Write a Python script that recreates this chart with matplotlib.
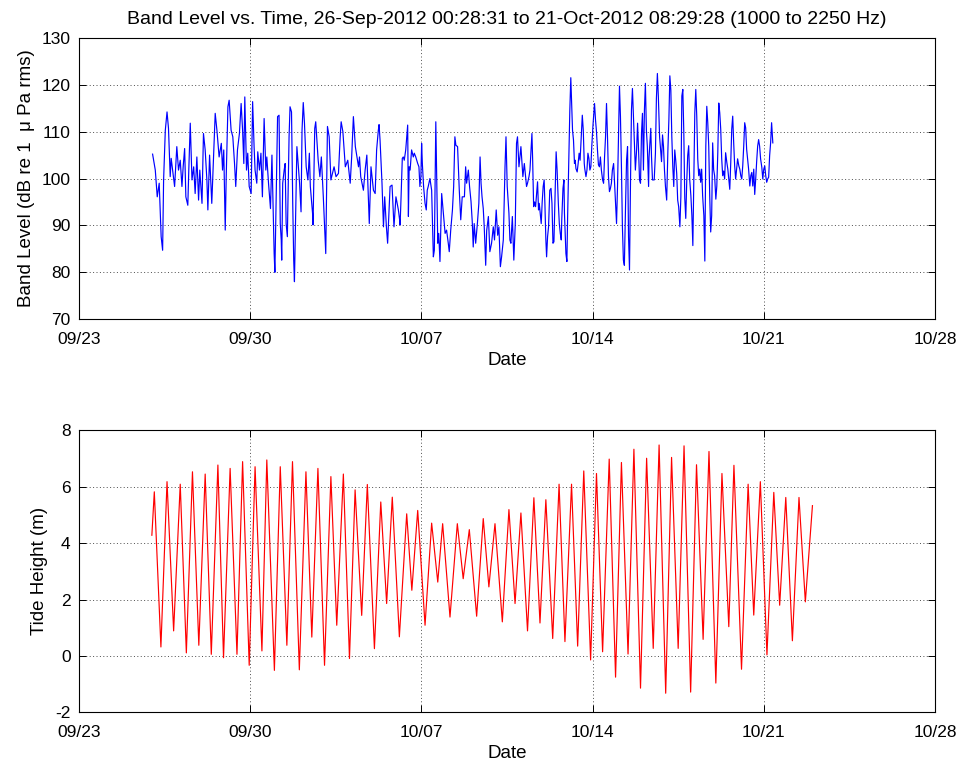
import numpy as np
import matplotlib
matplotlib.use("Agg")
import matplotlib.pyplot as plt
import matplotlib.dates as mdates
from datetime import datetime

plt.rcParams['font.family'] = ['Liberation Sans', 'DejaVu Sans']
plt.rcParams['axes.unicode_minus'] = False

# ---------------- data (days after 2012-09-23 00:00) ----------------
band_day = [
    3.01, 3.12, 3.20, 3.28, 3.36, 3.42, 3.46, 3.53, 3.60, 3.66, 3.73, 3.77, 3.83, 3.91, 4.00, 4.07,
    4.14, 4.21, 4.26, 4.32, 4.37, 4.45, 4.49, 4.55, 4.62, 4.69, 4.75, 4.82, 4.89, 4.94, 5.03, 5.09,
    5.16, 5.23, 5.27, 5.34, 5.43, 5.50, 5.57, 5.64, 5.73, 5.82, 5.87, 5.92, 5.98, 6.02, 6.09, 6.14,
    6.22, 6.29, 6.36, 6.41, 6.48, 6.56, 6.63, 6.69, 6.74, 6.78, 6.85, 6.90, 6.96, 7.04, 7.10, 7.16,
    7.20, 7.27, 7.31, 7.38, 7.44, 7.50, 7.57, 7.64, 7.68, 7.75, 7.83, 7.89, 7.98, 8.01,
    8.12, 8.18, 8.23, 8.27, 8.29, 8.33, 8.39, 8.43, 8.47, 8.52, 8.59, 8.63, 8.69, 8.74, 8.78, 8.81,
    8.91, 9.02, 9.08, 9.12, 9.17, 9.22, 9.29, 9.36, 9.42, 9.46, 9.55, 9.57, 9.64, 9.68, 9.78, 9.85,
    9.91, 9.99, 10.09, 10.16, 10.23, 10.30, 10.43, 10.51, 10.61, 10.68, 10.72, 10.79, 10.89, 10.99,
    11.09, 11.15, 11.22, 11.30, 11.43, 11.47, 11.52, 11.63, 11.70, 11.77, 11.87, 11.94, 12.04, 12.11,
    12.17, 12.24, 12.27, 12.31, 12.39, 12.45, 12.50, 12.57, 12.62, 12.72, 12.80, 12.88, 12.96, 13.06,
    13.11,
    13.13, 13.17, 13.22, 13.26, 13.30, 13.36, 13.40, 13.44, 13.47, 13.50, 13.54, 13.60, 13.67, 13.71,
    13.77, 13.85, 13.90, 13.94, 13.98, 14.01, 14.04, 14.09, 14.15, 14.20, 14.24, 14.28, 14.35, 14.42,
    14.49, 14.53, 14.59, 14.63, 14.67, 14.71, 14.76, 14.83, 14.90, 14.97, 15.03, 15.10, 15.14, 15.20,
    15.27, 15.32, 15.37, 15.41, 15.48, 15.55, 15.61, 15.67, 15.76, 15.81, 15.85, 15.92, 15.97, 16.03,
    16.08, 16.12, 16.16, 16.22, 16.29, 16.35, 16.40, 16.44, 16.48, 16.53, 16.57, 16.63, 16.67, 16.74,
    16.80, 16.87, 16.94, 16.99, 17.06, 17.12, 17.17, 17.23, 17.28, 17.35, 17.42, 17.46, 17.51, 17.58,
    17.62, 17.66, 17.72, 17.78, 17.84, 17.89, 17.93, 17.99, 18.07, 18.15, 18.21,
    18.26, 18.30, 18.34, 18.40, 18.44, 18.48, 18.52, 18.55, 18.59, 18.63, 18.67, 18.71, 18.75, 18.79,
    18.82, 18.86, 18.90, 18.94, 18.98, 19.02, 19.05, 19.09, 19.12, 19.16, 19.20, 19.25, 19.30, 19.34,
    19.38, 19.42, 19.46, 19.49, 19.51, 19.55, 19.60, 19.64, 19.68, 19.72, 19.74, 19.79, 19.83, 19.85,
    19.91, 19.95, 19.98, 20.02, 20.04, 20.07, 20.11, 20.14, 20.18, 20.22, 20.26, 20.29, 20.32, 20.37,
    20.41, 20.45, 20.49, 20.53, 20.58, 20.62, 20.66, 20.68, 20.73, 20.77, 20.81, 20.85, 20.89, 20.93,
    20.97, 21.02, 21.08, 21.12, 21.16, 21.20, 21.24, 21.28, 21.32, 21.36, 21.41, 21.45, 21.49, 21.53,
    21.57, 21.61, 21.65, 21.69, 21.73, 21.77, 21.81, 21.86, 21.90, 21.94, 21.98, 22.02, 22.06, 22.10,
    22.14, 22.18, 22.22, 22.26, 22.30, 22.35, 22.39, 22.43, 22.47, 22.51, 22.55, 22.59, 22.63, 22.67,
    22.71, 22.75, 22.80, 22.84, 22.88, 22.92, 22.96, 23.00, 23.04, 23.08, 23.12, 23.16, 23.20, 23.24,
    23.29, 23.31,
    23.38, 23.41, 23.45, 23.52, 23.57, 23.61, 23.65, 23.69, 23.74, 23.78, 23.82, 23.86, 23.90, 23.94,
    23.98, 24.03, 24.08, 24.12, 24.16, 24.20, 24.24, 24.28, 24.32, 24.36, 24.40, 24.44, 24.48, 24.52,
    24.57, 24.61, 24.65, 24.69, 24.73, 24.77, 24.81, 24.85, 24.89, 24.93, 24.97, 25.02, 25.06, 25.10,
    25.14, 25.18, 25.22, 25.26, 25.30, 25.34, 25.38, 25.42, 25.46, 25.50, 25.55, 25.59, 25.63, 25.67,
    25.71, 25.75, 25.79, 25.83, 25.87, 25.91, 25.95, 25.99, 26.04, 26.08, 26.12, 26.16, 26.20, 26.24,
    26.28, 26.32, 26.36, 26.40, 26.44, 26.49, 26.53, 26.57, 26.61, 26.65, 26.69, 26.73, 26.77, 26.81,
    26.85, 26.89, 26.93, 26.98, 27.02, 27.06, 27.10, 27.14, 27.18, 27.22, 27.26, 27.30, 27.34, 27.38,
    27.43, 27.47, 27.51, 27.55, 27.59, 27.63, 27.67, 27.71, 27.75, 27.79, 27.83, 27.87, 27.92, 27.96,
    28.00, 28.04, 28.08, 28.12, 28.16, 28.20, 28.24, 28.28, 28.32, 28.37,
]
band_db = [
    105.2, 101.8, 96.1, 99.0, 87.6, 84.7, 99.7, 110.3, 114.2, 110.7, 100.4, 104.3, 101.8, 98.3, 106.8, 101.8,
    103.9, 98.3, 102.5, 106.4, 96.1, 94.3, 101.8, 111.8, 99.7, 102.5, 96.8, 104.6, 95.4, 101.8, 94.7, 109.6,
    106.1, 99.7, 93.3, 105.0, 94.7, 104.6, 113.9, 110.3, 104.6, 107.5, 101.8, 106.1, 89.0, 100.4, 115.3, 116.7,
    110.3, 108.9, 103.2, 98.3, 106.1, 109.6, 116.0, 110.3, 103.2, 117.4, 101.8, 105.4, 98.3, 96.8, 116.4, 106.8,
    101.8, 99.0, 105.7, 101.8, 105.4, 96.1, 112.8, 101.8, 104.6, 99.0, 93.6, 105.0, 84.0, 80.0,
    113.2, 113.5, 90.4, 86.9, 82.6, 99.0, 101.8, 103.2, 90.4, 87.6, 108.9, 115.3, 114.2, 94.7, 82.6, 78.0,
    106.8, 99.0, 92.9, 110.3, 116.2, 111.8, 102.5, 99.7, 105.4, 98.3, 92.6, 90.1, 110.7, 112.1, 103.9, 100.4,
    104.6, 96.1, 84.0, 111.1, 108.9, 99.7, 102.5, 100.4, 101.1, 108.9, 112.1, 110.0, 102.5, 103.9,
    99.0, 104.6, 113.2, 106.8, 102.5, 104.6, 100.4, 97.5, 101.8, 105.0, 90.4, 102.5, 97.5, 96.8,
    106.1, 110.3, 111.5, 108.2, 99.0, 89.7, 96.1, 89.7, 86.2, 98.3, 98.6, 89.7, 96.1, 93.3,
    91.2,
    90.1, 96.1, 104.3, 104.6, 103.9, 106.1, 108.9, 111.4, 91.9, 102.5, 101.8, 106.1, 104.6, 105.4,
    104.6, 103.2, 102.5, 98.3, 100.4, 107.5, 103.2, 98.3, 94.7, 93.3, 97.5, 98.3, 100.0, 97.5,
    83.3, 84.7, 112.1, 99.7, 86.2, 88.3, 82.3, 96.8, 92.6, 88.3, 89.0, 86.2, 84.4, 89.0,
    93.3, 98.3, 108.9, 107.1, 106.8, 97.5, 91.2, 96.1, 96.1, 102.5, 99.0, 101.8, 98.3, 95.1,
    90.8, 85.4, 90.4, 86.2, 90.4, 94.7, 104.6, 99.0, 96.1, 93.6, 89.7, 81.5, 88.9, 91.9,
    84.4, 86.2, 89.7, 86.9, 93.3, 87.9, 89.7, 81.2, 83.3, 86.9, 102.5, 108.9, 98.3, 92.6,
    86.9, 86.2, 91.9, 82.6, 90.4, 107.5, 108.9, 102.5, 106.8, 100.4, 103.2,
    100.4, 98.3, 99.0, 100.4, 101.8, 105.7, 109.6, 104.0, 94.0, 95.0, 94.0, 96.8, 99.3, 93.3,
    94.7, 92.6, 90.4, 95.0, 98.3, 99.7, 94.7, 87.0, 83.3, 87.6, 89.7, 97.5, 97.9, 94.7,
    86.2, 86.5, 95.0, 101.4, 105.7, 101.8, 94.7, 90.4, 88.3, 86.9, 91.2, 97.9, 99.7, 92.6,
    84.0, 82.3, 91.9, 101.8, 106.8, 114.6, 121.5, 116.4, 110.3, 108.2, 103.2, 103.9, 102.1, 101.4,
    103.2, 105.4, 103.9, 108.2, 113.5, 110.3, 103.2, 102.1, 100.4, 101.8, 105.4, 104.3, 101.8, 102.5,
    107.1, 111.6, 116.0, 112.5, 110.0, 106.1, 102.9, 102.5, 104.6, 101.8, 99.7, 99.0, 104.6, 108.9,
    116.0, 108.9, 100.4, 97.2, 97.9, 99.0, 101.8, 103.2, 99.0, 94.7, 90.4, 98.3, 108.9, 119.7,
    113.2, 102.5, 89.7, 82.6, 81.5, 94.7, 103.9, 106.8, 87.6, 80.5, 98.9, 114.6, 119.2, 113.2,
    106.8, 101.8, 106.1, 111.8, 106.1, 99.7, 99.0, 109.6, 113.9, 101.8, 114.6, 120.3, 110.3, 106.8,
    98.3, 104.6,
    110.7, 104.6, 99.7, 99.7, 105.4, 117.1, 122.4, 117.4, 108.9, 106.1, 103.6, 109.3, 106.8, 101.8,
    98.3, 95.4, 106.1, 112.5, 121.9, 118.9, 108.9, 102.5, 98.3, 106.1, 103.9, 101.1, 95.4, 94.0,
    89.7, 96.1, 117.6, 119.0, 109.9, 95.8, 91.5, 99.3, 104.9, 107.0, 99.9, 96.3, 92.1, 85.7,
    99.9, 114.0, 119.0, 113.3, 104.2, 100.6, 102.0, 99.2, 102.0, 96.3, 92.1, 82.4, 106.9, 115.4,
    111.9, 106.9, 96.3, 88.6, 92.1, 107.6, 101.9, 100.6, 95.6, 98.4, 105.5, 116.1, 114.0, 110.5,
    104.2, 100.6, 101.6, 99.9, 105.5, 103.4, 102.0, 99.9, 97.7, 103.4, 110.5, 113.3, 107.6, 102.7,
    99.9, 102.0, 104.2, 102.7, 102.0, 100.6, 99.9, 102.7, 106.9, 111.9, 110.8, 106.2, 104.2, 102.0,
    98.4, 100.6, 101.3, 98.4, 102.0, 96.6, 99.9, 103.7, 106.9, 108.3, 106.9, 104.2, 102.4, 99.9,
    102.0, 102.7, 100.6, 99.2, 99.9, 100.3, 104.9, 107.6, 111.9, 107.6,
]

tide_day = [
    2.98, 3.08, 3.35, 3.60, 3.87, 4.14, 4.39, 4.64, 4.90, 5.16, 5.41, 5.68, 5.91, 6.18, 6.46, 6.69,
    6.96, 7.20, 7.48, 7.68, 7.99, 8.23, 8.50, 8.73, 9.01, 9.28, 9.52, 9.77, 10.04, 10.30, 10.54, 10.81,
    11.06, 11.29, 11.56, 11.79, 12.08, 12.34, 12.58, 12.81, 13.10, 13.40, 13.61, 13.85, 14.15, 14.42,
    14.67, 14.87, 15.17, 15.47, 15.71, 15.96, 16.26, 16.53, 16.76, 17.01, 17.31, 17.58, 17.83, 18.07,
    18.34, 18.60, 18.85, 19.09, 19.37, 19.63, 19.87, 20.14, 20.39, 20.64, 20.92, 21.16, 21.41, 21.68,
    21.94, 22.18, 22.45, 22.69, 22.96, 23.21, 23.48, 23.72, 23.99, 24.23, 24.50, 24.74, 25.01, 25.25,
    25.52, 25.76, 26.04, 26.29, 26.57, 26.78, 27.09, 27.36, 27.59, 27.86, 28.13, 28.41, 28.65, 28.90,
    29.17, 29.44, 29.70, 29.99,
]
tide_m = [
    4.28, 5.82, 0.32, 6.18, 0.89, 6.09, 0.11, 6.53, 0.38, 6.45, 0.06, 6.77, -0.06, 6.65, 0.06, 6.89,
    -0.33, 6.71, 0.18, 6.95, -0.51, 6.71, 0.38, 6.89, -0.49, 6.53, 0.67, 6.65, -0.33, 6.36, 1.09, 6.45,
    -0.09, 5.89, 1.44, 6.08, 0.26, 5.46, 1.86, 5.63, 0.68, 5.04, 2.33, 5.16, 1.09, 4.71,
    2.62, 4.69, 1.38, 4.69, 2.74, 4.48, 1.41, 4.87, 2.45, 4.69, 1.21, 5.19, 1.86, 5.07,
    0.89, 5.61, 1.17, 5.54, 0.62, 6.09, 0.51, 6.09, 0.35, 6.56, -0.14, 6.47, 0.15, 6.98,
    -0.75, 6.86, 0.07, 7.33, -1.14, 7.01, 0.27, 7.48, -1.32, 7.04, 0.27, 7.45, -1.28, 6.78,
    0.59, 7.25, -0.96, 6.47, 1.04, 6.76, -0.47, 6.09, 1.45, 6.18, 0.04, 5.80, 1.80, 5.62,
    0.54, 5.62, 1.92, 5.33,
]

date_tick_days = [0, 7, 14, 21, 28, 35]
date_tick_labels = ['09/23', '09/30', '10/07', '10/14', '10/21', '10/28']
band_yticks = [70, 80, 90, 100, 110, 120, 130]
tide_yticks = [-2, 0, 2, 4, 6, 8]

title = "Band Level vs. Time, 26-Sep-2012 00:28:31 to 21-Oct-2012 08:29:28 (1000 to 2250 Hz)"

# ---------------- plotting ----------------
base = mdates.date2num(datetime(2012, 9, 23))

fig = plt.figure(figsize=(9.62, 7.69), dpi=100)
ax1 = fig.add_axes([0.0821, 0.5849, 0.8898, 0.3659])
ax2 = fig.add_axes([0.0821, 0.0736, 0.8898, 0.3668])

ax1.plot(base + np.array(band_day), band_db, color='#0000ff', lw=0.85)
ax2.plot(base + np.array(tide_day), tide_m, color='#ff0000', lw=0.85)

TICK_FS = 12.5
LAB_FS = 13.5
for ax, yt, ylab in [(ax1, band_yticks, 'Band Level (dB re 1  \u03bc Pa rms)'),
                     (ax2, tide_yticks, 'Tide Height (m)')]:
    ax.set_xlim(base + date_tick_days[0], base + date_tick_days[-1])
    ax.set_xticks([base + d for d in date_tick_days])
    ax.set_xticklabels(date_tick_labels)
    ax.set_ylim(yt[0], yt[-1])
    ax.set_yticks(yt)
    ax.grid(True, linestyle=(0, (1, 2.5)), color='0.3', linewidth=0.7)
    ax.tick_params(direction='in', top=True, right=True, length=5, width=0.7,
                   labelsize=TICK_FS)
    ax.tick_params(axis='x', pad=9)
    ax.tick_params(axis='y', pad=6)
    for s in ax.spines.values():
        s.set_linewidth(0.8)
    ax.set_xlabel('Date', fontsize=LAB_FS, labelpad=4)
    ax.set_ylabel(ylab, fontsize=LAB_FS, labelpad=5)

ax1.set_title(title, fontsize=14, pad=10)

fig.savefig('out.png', dpi=100)
